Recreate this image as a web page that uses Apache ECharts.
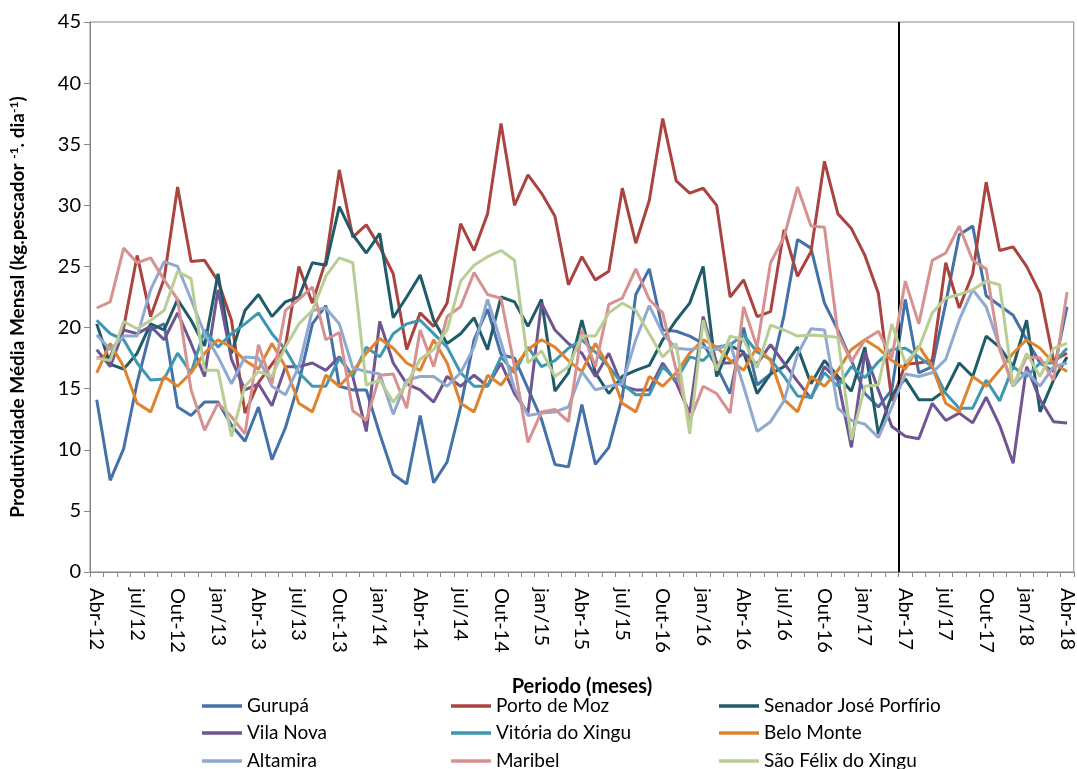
<!DOCTYPE html>
<html>
<head>
<meta charset="utf-8">
<script src="https://cdn.jsdelivr.net/npm/echarts@6/dist/echarts.min.js"></script>
<style>
html,body{margin:0;padding:0;background:#fff;}
#chart{width:1077px;height:769px;}
</style>
</head>
<body>
<div id="chart"></div>
<script>
const months = ['Abr-12','Mai-12','Jun-12','Jul-12','Ago-12','Set-12','Out-12','Nov-12','Dez-12','Jan-13','Fev-13','Mar-13',
'Abr-13','Mai-13','Jun-13','Jul-13','Ago-13','Set-13','Out-13','Nov-13','Dez-13','Jan-14','Fev-14','Mar-14',
'Abr-14','Mai-14','Jun-14','Jul-14','Ago-14','Set-14','Out-14','Nov-14','Dez-14','Jan-15','Fev-15','Mar-15',
'Abr-15','Mai-15','Jun-15','Jul-15','Ago-15','Set-15','Out-15','Nov-15','Dez-15','Jan-16','Fev-16','Mar-16',
'Abr-16','Mai-16','Jun-16','Jul-16','Ago-16','Set-16','Out-16','Nov-16','Dez-16','Jan-17','Fev-17','Mar-17',
'Abr-17','Mai-17','Jun-17','Jul-17','Ago-17','Set-17','Out-17','Nov-17','Dez-17','Jan-18','Fev-18','Mar-18',
'Abr-18'];

const tickLabels = ['Abr-12','jul/12','Out-12','jan/13','Abr-13','jul/13','Out-13','jan/14','Abr-14','jul/14','Out-14','jan/15',
'Abr-15','jul/15','Out-16','jan/16','Abr-16','jul/16','Out-16','jan/17','Abr-17','jul/17','Out-17','jan/18','Abr-18'];

const dividerMonth = 'Abr-17';

const gurupa = [14.1,7.5,10.1,15.5,19.8,20.3,13.5,12.8,13.9,13.9,12.0,10.7,
13.5,9.2,11.8,15.5,20.3,21.8,15.2,14.9,14.9,11.3,8.0,7.2,
12.8,7.3,9.0,13.5,19.0,21.5,17.8,17.5,15.0,12.5,8.8,8.6,
13.7,8.8,10.2,14.3,22.7,24.8,19.8,19.7,19.3,18.7,16.8,14.6,
20.0,15.3,16.2,21.0,27.2,26.5,22.0,19.8,17.3,14.6,13.5,14.9,
22.3,16.3,16.8,22.0,27.6,28.3,22.6,21.8,21.0,19.0,17.1,16.4,
21.7];

const portoDeMoz = [17.5,17.6,20.0,25.9,20.9,24.0,31.5,25.4,25.5,23.8,20.6,13.0,
15.5,17.0,18.5,25.0,22.0,25.5,32.9,27.4,28.4,26.6,24.4,18.2,
21.2,20.1,22.0,28.5,26.3,29.3,36.7,30.0,32.5,31.0,29.1,23.5,
25.8,23.9,24.6,31.4,26.9,30.4,37.1,32.0,31.0,31.4,30.0,22.5,
23.9,20.9,21.3,28.0,24.2,26.2,33.6,29.3,28.1,25.9,22.8,14.0,
17.0,17.1,17.3,25.3,21.6,24.4,31.9,26.3,26.6,25.0,22.8,17.3,
17.9];

const senador = [20.3,17.0,16.6,17.9,20.3,19.8,22.3,20.6,18.5,24.4,17.9,21.4,
22.7,20.9,22.1,22.5,25.3,25.1,29.9,27.6,26.1,27.7,20.8,22.5,
24.3,20.6,18.7,19.5,20.8,18.2,22.5,22.1,20.1,22.3,14.8,16.3,
20.6,16.3,14.6,16.0,16.5,16.9,19.0,20.6,22.0,25.0,16.0,18.5,
18.0,14.6,16.2,16.8,18.4,15.4,17.3,16.0,14.8,18.4,11.3,14.5,
15.8,14.1,14.1,14.9,17.1,16.0,19.3,18.4,16.8,20.6,13.1,15.7,
17.6];

const vilaNova = [18.2,16.8,19.8,19.5,20.1,19.0,21.2,18.7,16.0,23.1,17.4,14.9,
15.4,13.6,16.8,16.8,17.1,16.5,17.6,16.0,11.5,20.5,17.1,15.4,
14.9,13.9,16.0,15.2,16.1,15.2,17.1,14.6,13.0,22.0,19.8,18.7,
17.9,16.0,17.9,15.2,14.9,14.9,17.1,15.5,13.0,20.9,17.1,17.1,
17.9,17.0,18.6,17.1,15.6,14.2,16.8,15.7,10.2,18.0,14.9,11.9,
11.1,10.9,13.8,12.4,13.0,12.2,14.3,12.0,8.9,16.8,14.1,12.3,
12.2];

const vitoria = [20.6,19.5,19.0,17.1,15.7,15.8,17.9,16.3,19.8,18.4,19.5,20.3,
21.2,19.5,18.2,16.3,15.2,15.2,17.5,16.0,18.4,17.6,19.5,20.3,
20.6,19.5,18.4,16.3,15.2,15.2,17.6,16.3,18.4,16.8,17.3,18.3,
19.0,18.0,16.8,15.4,14.5,14.5,16.8,15.7,17.6,17.3,18.4,18.6,
19.4,18.0,17.4,16.0,14.4,14.3,16.3,15.2,16.8,15.9,17.2,18.2,
18.3,17.6,16.8,14.6,13.4,13.4,15.7,14.0,16.8,16.0,17.1,17.1,
18.3];

const beloMonte = [16.3,18.7,16.8,13.8,13.1,16.0,15.2,16.3,17.9,19.0,18.4,17.3,
16.6,18.7,16.8,13.8,13.1,16.1,15.2,16.4,17.9,19.1,18.3,17.1,
16.5,19.0,17.1,13.8,13.1,16.1,15.3,16.8,18.2,19.0,18.4,17.3,
16.4,18.7,16.8,13.8,13.1,16.0,15.2,16.3,17.9,19.0,18.4,17.3,
16.5,18.4,17.3,14.1,13.1,16.0,15.2,16.5,18.2,19.0,18.3,17.3,
16.6,18.5,16.8,13.8,13.1,16.0,15.2,16.5,17.9,19.0,18.3,17.1,
16.4];

const altamira = [19.4,18.2,19.3,19.3,23.1,25.4,25.0,22.3,19.5,17.6,15.4,17.6,
17.5,15.2,14.5,16.8,21.4,21.6,20.3,16.7,16.4,16.2,12.9,15.7,
16.0,16.0,15.2,16.3,18.4,22.3,18.8,15.0,12.8,13.0,13.1,13.5,
16.4,14.9,15.2,15.4,19.0,21.8,19.5,18.3,18.2,18.4,18.2,18.7,
15.2,11.5,12.3,14.0,17.8,19.9,19.8,13.4,12.4,12.1,11.0,13.5,
16.2,16.0,16.3,17.4,20.6,23.1,21.7,18.4,15.2,16.4,15.2,16.8,
17.1];

const maribel = [21.6,22.1,26.5,25.3,25.7,23.9,22.3,14.9,11.6,13.8,12.7,11.3,
18.6,15.4,21.4,22.3,23.3,19.0,19.6,13.2,12.4,16.1,16.2,13.4,
19.8,16.8,20.9,21.7,24.5,22.7,22.4,16.8,10.6,13.1,13.3,12.3,
19.8,16.8,21.9,22.4,24.8,22.3,21.2,16.5,12.4,15.2,14.6,13.0,
21.7,18.4,25.3,27.4,31.5,28.3,28.2,19.5,17.2,19.0,19.7,17.5,
23.8,20.3,25.5,26.1,28.3,25.5,24.8,18.2,15.2,17.6,17.5,15.7,
22.9];

const saoFelix = [17.5,17.3,20.5,19.9,20.6,21.4,24.6,24.0,16.5,16.5,11.1,15.2,
16.4,16.0,18.4,20.3,21.4,24.2,25.7,25.3,15.3,15.7,13.9,15.4,
17.4,18.2,19.8,23.8,25.1,25.8,26.3,25.5,17.1,18.1,16.0,16.8,
19.3,19.3,21.2,22.0,21.4,19.5,17.6,18.7,11.3,20.6,16.5,19.3,
19.0,16.7,20.2,19.8,19.3,19.4,19.3,19.2,10.8,15.2,15.3,20.3,
17.1,18.3,21.2,22.4,22.7,23.1,23.8,23.5,15.2,17.9,16.0,18.3,
18.7];

const seriesNames = ['Gurupá','Porto de Moz','Senador José Porfírio','Vila Nova','Vitória do Xingu','Belo Monte','Altamira','Maribel','São Félix do Xingu'];
const seriesData = [gurupa, portoDeMoz, senador, vilaNova, vitoria, beloMonte, altamira, maribel, saoFelix];
const seriesColors = ['#4472A8','#AA4441','#1F5C68','#6F5591','#3E98B1','#E0832F','#8FA9D0','#D69290','#B9CE95'];

const FONT = 'Lato, "Open Sans", sans-serif';
const chart = echarts.init(document.getElementById('chart'), null, {renderer: 'canvas'});

const series = seriesNames.map((name, k) => ({
  name: name,
  type: 'line',
  data: seriesData[k],
  showSymbol: false,
  symbol: 'none',
  smooth: false,
  lineStyle: {width: 3, color: seriesColors[k]},
  itemStyle: {color: seriesColors[k]},
  emphasis: {disabled: true},
  z: 2 + k
}));

series.push({
  name: '__divider',
  type: 'line',
  xAxisIndex: 1,
  data: [],
  silent: true,
  markLine: {
    silent: true,
    symbol: 'none',
    label: {show: false},
    lineStyle: {color: '#000', width: 2, type: 'solid'},
    data: [{xAxis: months.indexOf(dividerMonth)}]
  },
  z: 20
});

// legend: 3 columns x 3 rows, one legend component per entry
const legendCols = [202, 451, 719];
const legendRows = [696, 723, 751];
const legends = seriesNames.map((name, k) => ({
  orient: 'horizontal',
  left: legendCols[k % 3],
  top: legendRows[Math.floor(k / 3)],
  padding: 0,
  data: [name],
  icon: 'rect',
  itemWidth: 40,
  itemHeight: 3.5,
  selectedMode: false,
  textStyle: {fontFamily: FONT, fontSize: 19, color: '#000', lineHeight: 20, padding: [0, 0, 0, 0]}
}));

const option = {
  animation: false,
  backgroundColor: '#fff',
  color: seriesColors,
  grid: {left: 87, right: 2, top: 22, bottom: 197, show: true, borderColor: '#868686', borderWidth: 1, backgroundColor: 'transparent'},
  legend: legends,
  xAxis: [{
    type: 'category',
    data: months,
    boundaryGap: true,
    name: 'Periodo (meses)',
    nameLocation: 'middle',
    nameGap: 105,
    nameTextStyle: {fontFamily: FONT, fontSize: 20, fontWeight: 'bold', color: '#000'},
    axisLine: {show: true, lineStyle: {color: '#868686', width: 1}},
    axisTick: {show: true, interval: 0, length: 5, inside: false, lineStyle: {color: '#868686'}},
    axisLabel: {
      interval: 2,
      rotate: -90,
      margin: 16,
      fontFamily: FONT,
      fontSize: 20,
      color: '#000',
      formatter: function (value, index) { return tickLabels[Math.round(index / 3)]; }
    },
    splitLine: {show: false}
  }, {
    type: 'value',
    min: 0,
    max: months.length,
    show: false,
    gridIndex: 0
  }],
  yAxis: {
    type: 'value',
    min: 0,
    max: 45,
    interval: 5,
    name: 'Produtividade Média Mensal (kg.pescador {sup|-1}. dia{sup|-1})',
    nameLocation: 'middle',
    nameRotate: 90,
    nameGap: 62,
    nameTextStyle: {
      fontFamily: FONT, fontSize: 19, fontWeight: 'bold', color: '#000', lineHeight: 20,
      padding: [0, 20, 0, 0],
      rich: {sup: {fontFamily: FONT, fontSize: 12, fontWeight: 'bold', color: '#000', verticalAlign: 'top', lineHeight: 12}}
    },
    axisLine: {show: true, lineStyle: {color: '#868686', width: 1}},
    axisTick: {show: true, length: 6, inside: false, lineStyle: {color: '#868686'}},
    axisLabel: {fontFamily: FONT, fontSize: 20, color: '#000', margin: 9},
    splitLine: {show: false}
  },
  series: series
};

chart.setOption(option);
</script>
</body>
</html>
